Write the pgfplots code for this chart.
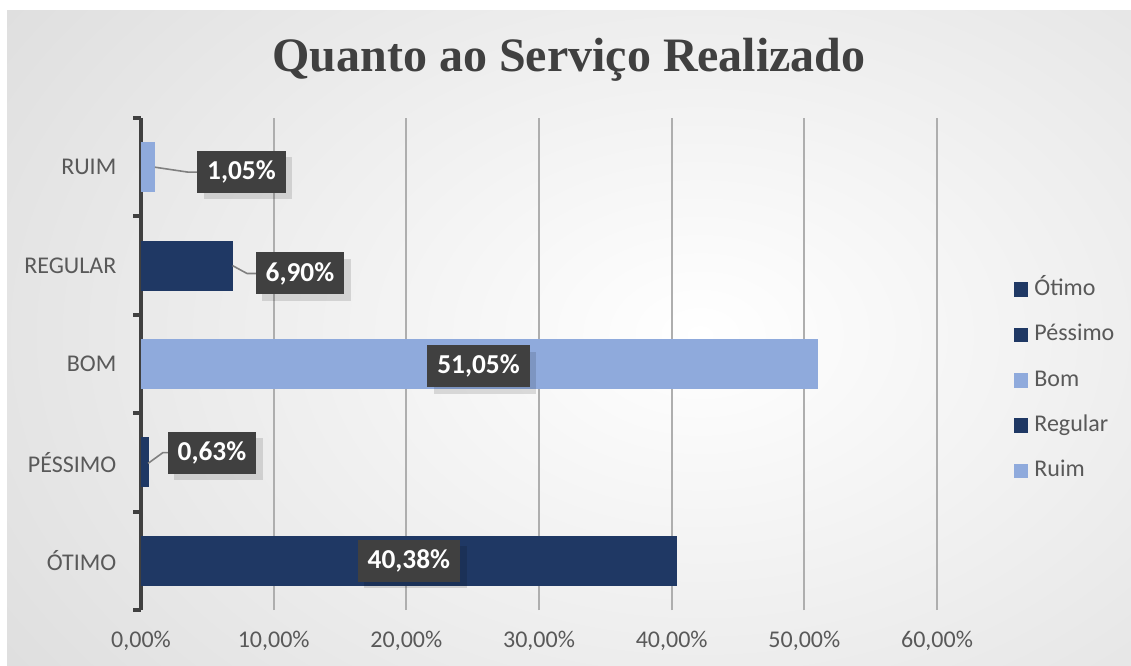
\documentclass[border=0pt]{standalone}
\usepackage{pgfplots}
\pgfplotsset{compat=1.18}
\usepackage{fontspec}
\setmainfont{Carlito}
\newfontfamily\titlefont{Liberation Serif}
\usetikzlibrary{shadows}
\definecolor{cNavy}{HTML}{1F3864}
\definecolor{cLight}{HTML}{8FAADC}
\definecolor{cDark}{HTML}{404040}
\definecolor{cTick}{HTML}{595959}
\definecolor{cGrid}{HTML}{AEAEAE}
\definecolor{cOuter}{HTML}{C0C0C0}
\definecolor{cLeader}{HTML}{808080}
\tikzset{dlabel/.style={fill=cDark, text=white, font=\bfseries\fontsize{20.5}{24}\selectfont,
  inner xsep=7.5pt, inner ysep=0pt, minimum height=31.5pt,
  drop shadow={shadow xshift=5pt, shadow yshift=-5pt, fill=black, opacity=0.12}}}
\begin{document}
\begin{tikzpicture}[x=0.75pt,y=0.75pt]
\useasboundingbox (0,0) rectangle (1131,665);
\fill[white] (0,0) rectangle (1131,665);
\begin{scope}
\clip (7,0) rectangle (1131,654);
\fill[cOuter] (7,0) rectangle (1131,654);
\shade[inner color=white, outer color=cOuter] (700,330) ellipse (1640 and 1150);
\end{scope}
\node[font=\titlefont\bfseries\fontsize{36}{40}\selectfont, text=cDark] at (569,605) {Quanto ao Serviço Realizado};
\begin{axis}[
  at={(105.75pt,41.25pt)}, anchor=south west,
  scale only axis, width=597pt, height=369pt,
  xbar, bar width=37.5pt, bar shift=0pt,
  xmin=0, xmax=60, ymin=-0.5, ymax=4.5,
  xtick={0,10,...,60},
  xticklabels={{0,00\%},{10,00\%},{20,00\%},{30,00\%},{40,00\%},{50,00\%},{60,00\%}},
  ytick={0,...,4},
  yticklabels={ÓTIMO,PÉSSIMO,BOM,REGULAR,RUIM},
  minor ytick={-0.5,0.5,...,4.5},
  tick align=outside,
  major tick length=0pt,
  minor tick length=6pt,
  every minor tick/.append style={line width=3pt, draw=cDark},
  xmajorgrids,
  major grid style={draw=cGrid, line width=1.3pt},
  axis lines*=left,
  axis line style={-},
  x axis line style={draw=none},
  y axis line style={draw=cDark, line width=3pt},
  tick label style={font=\fontsize{18}{21}\selectfont, text=cTick},
  yticklabel style={xshift=-15pt},
  xticklabel style={yshift=-12pt},
  clip=false,
  legend style={at={(axis description cs:1.091,0.467)}, anchor=west, draw=none, fill=none,
    font=\fontsize{18}{21}\selectfont, text=cTick, row sep=19pt,
    nodes={text height=12pt, text depth=3pt, inner sep=0pt}},
  legend cell align=left,
  legend image code/.code={\fill[#1, draw=none] (0pt,-5.5pt) rectangle (11pt,5.5pt);},
  /tikz/every even column/.append style={column sep=0pt},
  /tikz/every odd column/.append style={column sep=4.5pt},
]
\addplot[fill=cNavy, draw=none] coordinates {(40.38,0)};
\addplot[fill=cNavy, draw=none] coordinates {(0.63,1)};
\addplot[fill=cLight, draw=none] coordinates {(51.05,2)};
\addplot[fill=cNavy, draw=none] coordinates {(6.90,3)};
\addplot[fill=cLight, draw=none] coordinates {(1.05,4)};
\legend{Ótimo,Péssimo,Bom,Regular,Ruim}
\draw[cLeader, line width=1.2pt] (1.05,4) -- (3.54,3.95) -- (4.5,3.95);
\draw[cLeader, line width=1.2pt] (6.90,3) -- (7.99,2.92) -- (8.9,2.92);
\draw[cLeader, line width=1.2pt] (0.53,0.99) -- (1.66,1.10) -- (2.2,1.10);
\node[dlabel] at (20.19,0) {40,38\%};
\node[dlabel] at (5.35,1.10) {0,63\%};
\node[dlabel] at (25.44,1.98) {51,05\%};
\node[dlabel] at (11.98,2.92) {6,90\%};
\node[dlabel] at (7.57,3.955) {1,05\%};
\end{axis}
\end{tikzpicture}
\end{document}
